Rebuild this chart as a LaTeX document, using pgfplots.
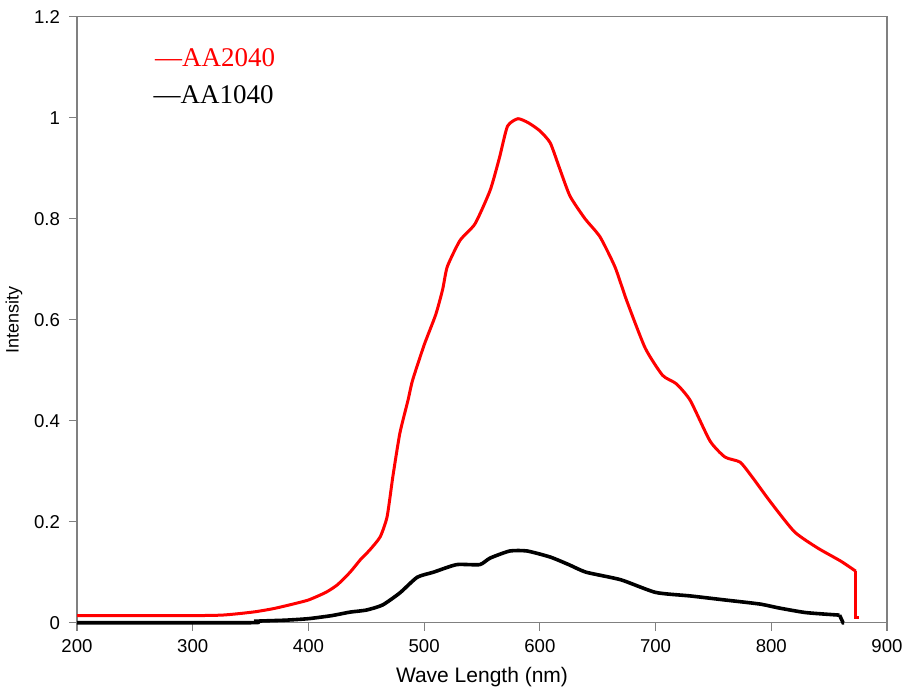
\documentclass[border=0pt]{standalone}
\usepackage{fontspec}
\setmainfont{Liberation Serif}
\setsansfont{Liberation Sans}
\usepackage{pgfplots}
\pgfplotsset{compat=1.18}
\definecolor{frameGray}{RGB}{128,128,128}
\definecolor{specRed}{RGB}{255,0,0}

\begin{document}
\begin{tikzpicture}
\path[use as bounding box] (-38.5pt,-31.65pt) rectangle (413pt,311.35pt);
\begin{axis}[
    scale only axis,
    width=405pt,
    height=303pt,
    xmin=200, xmax=900,
    ymin=0, ymax=1.2,
    xtick={200,300,...,900},
    ytick={0,0.2,0.4,0.6,0.8,1,1.2},
    yticklabels={0,0.2,0.4,0.6,0.8,1,1.2},
    axis line style={frameGray, line width=0.7pt},
    tick style={frameGray, line width=0.6pt},
    tick align=outside,
    major tick length=4pt,
    xtick pos=bottom,
    ytick pos=left,
    /pgf/number format/assume math mode=true,
    tick label style={font=\sffamily\fontsize{9.3}{11}\selectfont, text=black},
    xticklabel style={yshift=-1pt},
    yticklabel style={xshift=-1pt},
    xlabel={Wave Length (nm)},
    ylabel={Intensity},
    xlabel style={font=\sffamily\fontsize{10.5}{12}\selectfont, yshift=-0.5pt},
    ylabel style={font=\sffamily\fontsize{9}{10}\selectfont, yshift=-1pt},
    clip=false,
]

% AA2040
\addplot[specRed, line width=1.5pt, smooth, tension=0.35] coordinates {
    (200,0.014) (250,0.014) (300,0.014) (325,0.015) (340,0.018)
    (355,0.022) (370,0.028) (385,0.036) (400,0.045) (415,0.060)
    (425,0.075) (436,0.100) (445,0.125) (453,0.144) (462,0.170)
    (468,0.210) (473,0.290) (479,0.375) (486,0.440) (490,0.480)
    (500,0.550) (510,0.610) (516,0.660) (520,0.705) (531,0.757)
    (544,0.790) (557,0.856) (565,0.920) (572,0.983) (581,0.998)
    (590,0.990) (600,0.974) (609,0.950) (617,0.900) (626,0.845)
    (639,0.800) (652,0.764) (665,0.704) (675,0.638) (691,0.544)
    (706,0.490) (718,0.473) (730,0.440) (747,0.360) (760,0.328)
    (773,0.318) (783,0.290) (799,0.240) (820,0.180) (840,0.148)
    (860,0.122) (873,0.102)
};
\addplot[specRed, line width=1.5pt] coordinates {
    (873,0.102) (873,0.011) (876,0.011)
};

% AA1040
\addplot[black, line width=1.8pt, smooth, tension=0.35] coordinates {
    (200,0) (350,0) (355,0.003) (380,0.005) (400,0.008)
    (420,0.014) (436,0.021) (450,0.025) (464,0.035) (479,0.059)
    (494,0.090) (508,0.100) (528,0.115) (548,0.115) (557,0.128)
    (574,0.142) (589,0.142) (609,0.130) (625,0.115) (640,0.100)
    (670,0.085) (700,0.060) (730,0.053) (760,0.045) (790,0.037)
    (807,0.029) (830,0.020) (859,0.015)
};
\addplot[black, line width=1.8pt] coordinates {
    (859,0.015) (862,0) (863,0)
};

\node[anchor=west, inner sep=0pt, text=specRed, font=\fontsize{13.5}{15}\selectfont]
    at (rel axis cs:0.096,0.933) {---AA2040};
\node[anchor=west, inner sep=0pt, text=black, font=\fontsize{13.5}{15}\selectfont]
    at (rel axis cs:0.094,0.871) {---AA1040};
\end{axis}
\end{tikzpicture}
\end{document}
